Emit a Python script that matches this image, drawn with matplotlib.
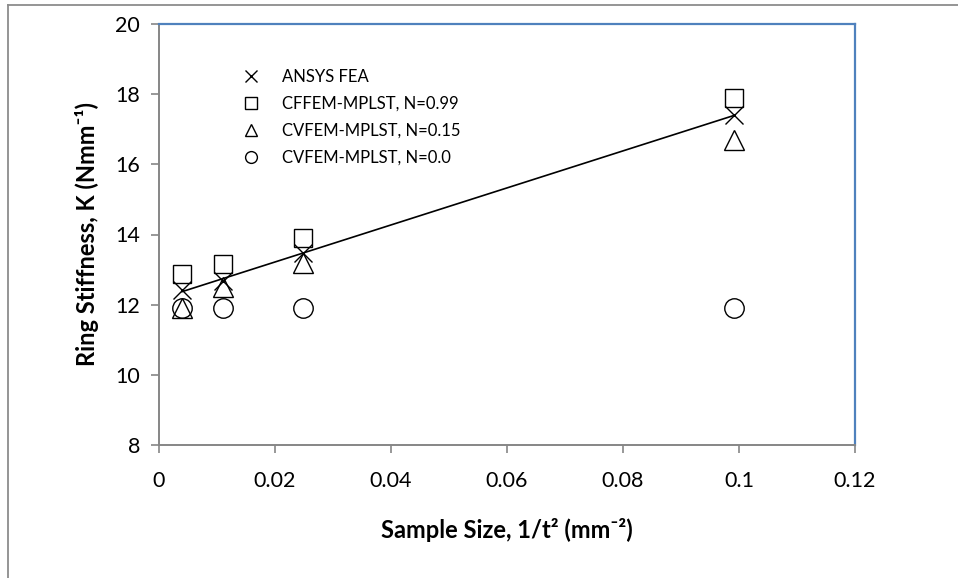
import matplotlib
matplotlib.use('Agg')
import matplotlib.pyplot as plt
from matplotlib.lines import Line2D
import numpy as np

plt.rcParams['font.family'] = ['Lato', 'DejaVu Sans']

# sample size 1/t^2 (mm^-2)
sample_size = [0.00397, 0.01102, 0.0248, 0.0992]

# ring stiffness K (N/mm)
ansys_fea = [12.43, 12.67, 13.48, 17.40]
cffem_099 = [12.86, 13.17, 13.90, 17.88]
cvfem_015 = [11.90, 12.50, 13.18, 16.68]
cvfem_000 = [11.90, 11.90, 11.90, 11.90]

x_ticks = [0, 0.02, 0.04, 0.06, 0.08, 0.1, 0.12]
x_tick_labels = ['0', '0.02', '0.04', '0.06', '0.08', '0.1', '0.12']
y_ticks = [8, 10, 12, 14, 16, 18, 20]

fig = plt.figure(figsize=(9.58, 5.78), dpi=100)
ax = fig.add_axes([159 / 958, 1 - 445 / 578, 696 / 958, 421 / 578])

# outer chart frame
fig.add_artist(Line2D([8 / 958, 8 / 958], [0, 1 - 5 / 578], color='#8c8c8c', lw=1.3))
fig.add_artist(Line2D([8 / 958, 1], [1 - 5 / 578, 1 - 5 / 578], color='#8c8c8c', lw=1.3))

# linear trend of the FEA results
coef = np.polyfit(sample_size, ansys_fea, 1)
xs = np.array([min(sample_size), max(sample_size)])
ax.plot(xs, np.polyval(coef, xs), color='black', lw=1.2, zorder=2)

mk = dict(linestyle='none', color='black', markerfacecolor='none', markeredgewidth=1.0, zorder=3)
ax.plot(sample_size, ansys_fea, marker='x', markersize=12.5, **mk)
ax.plot(sample_size, cffem_099, marker='s', markersize=13, **mk)
ax.plot(sample_size, cvfem_015, marker='^', markersize=14, **mk)
ax.plot(sample_size, cvfem_000, marker='o', markersize=14, **mk)

ax.set_xlim(0, 0.12)
ax.set_ylim(8, 20)
ax.set_xticks(x_ticks)
ax.set_xticklabels(x_tick_labels)
ax.set_yticks(y_ticks)

for s in ['left', 'bottom']:
    ax.spines[s].set_color('#868686')
    ax.spines[s].set_linewidth(1.4)
for s in ['top', 'right']:
    ax.spines[s].set_color('#4f81bd')
    ax.spines[s].set_linewidth(1.6)

ax.tick_params(direction='out', length=5.5, width=1.2, color='#868686', labelsize=15.5, pad=8)
ax.tick_params(axis='x', pad=13)

ax.set_xlabel('Sample Size, 1/t² (mm⁻²)', fontsize=17, fontweight='bold', labelpad=20)
ax.set_ylabel('Ring Stiffness, K (Nmm⁻¹)', fontsize=17, fontweight='bold', labelpad=12)

handles = [
    Line2D([], [], marker='x', markersize=8, **mk),
    Line2D([], [], marker='s', markersize=8.5, **mk),
    Line2D([], [], marker='^', markersize=8.5, **mk),
    Line2D([], [], marker='o', markersize=8.5, **mk),
]
labels = ['ANSYS FEA', 'CFFEM-MPLST, N=0.99', 'CVFEM-MPLST, N=0.15', 'CVFEM-MPLST, N=0.0']
ax.legend(handles, labels, loc='upper left', bbox_to_anchor=(0.12, 0.893), frameon=False,
          fontsize=12, handlelength=1.0, handletextpad=1.37, labelspacing=0.65,
          borderpad=0, borderaxespad=0)

fig.savefig('out.png', dpi=100)
